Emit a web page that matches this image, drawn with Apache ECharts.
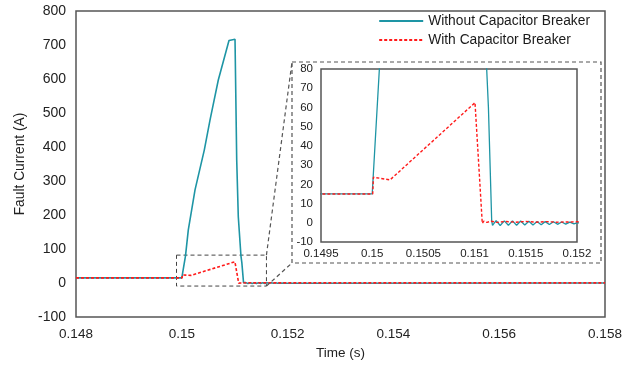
<!DOCTYPE html>
<html><head><meta charset="utf-8">
<script src="https://cdn.jsdelivr.net/npm/echarts@6/dist/echarts.min.js"></script>
<style>html,body{margin:0;padding:0;background:#fff}#c{width:638px;height:367px}</style>
</head><body><div id="c"></div>
<script>
const seriesNames = ['Without Capacitor Breaker', 'With Capacitor Breaker'];
// [time (s), current (A)]
const withoutBreaker = [
  [0.148, 15], [0.15, 15], [0.150005, 15.5], [0.15007, 80], [0.150123, 156], [0.15025, 274],
  [0.150425, 391], [0.150533, 479], [0.15069, 597], [0.150892, 713], [0.151006, 717],
  [0.151038, 362], [0.151068, 195], [0.151118, 80], [0.151135, 60], [0.151167, 1],
  [0.151175, -1.4], [0.15121, 1.1], [0.15125, -1.4], [0.15129, 1.0], [0.15133, -1.3],
  [0.15137, 1.0], [0.15141, -1.3], [0.15145, 0.9], [0.15149, -1.2], [0.15153, 0.8],
  [0.15157, -1.1], [0.15161, 0.7], [0.15165, -1.0], [0.15169, 0.6], [0.15173, -0.9],
  [0.15177, 0.5], [0.15181, -0.8], [0.15185, 0.4], [0.15189, -0.7], [0.15193, 0.3],
  [0.15197, -0.6], [0.152, 0], [0.158, 0]
];
const withBreaker = [
  [0.148, 15], [0.150005, 15], [0.150012, 23.7], [0.150174, 22.3], [0.151004, 62.5],
  [0.151075, -0.3], [0.15109, 0.9], [0.15112, 0.2], [0.15116, 0.8], [0.15122, 0.2],
  [0.1513, 0.7], [0.1514, 0.3], [0.1515, 0.7], [0.1516, 0.3], [0.1517, 0.6], [0.1518, 0.3],
  [0.152, 0.5], [0.158, 0.5]
];
const mainXTicks = [0.148, 0.15, 0.152, 0.154, 0.156, 0.158];
const mainYTicks = [-100, 0, 100, 200, 300, 400, 500, 600, 700, 800];
const insetXTicks = [0.1495, 0.15, 0.1505, 0.151, 0.1515, 0.152];
const insetYTicks = [-10, 0, 10, 20, 30, 40, 50, 60, 70, 80];
const zoomBoxX = [0.1499, 0.1516];
const zoomBoxY = [-9, 82];

const TEAL = '#1E95A5', RED = '#FF1A1A', FONT = 'Liberation Sans, Arial, sans-serif';
const fmt = v => String(parseFloat(v.toFixed(5)));
const step = a => +(a[1] - a[0]).toFixed(6);

const chart = echarts.init(document.getElementById('c'));
const frame = { show: true, borderColor: '#555', borderWidth: 1.5, backgroundColor: '#fff' };
const axBase = (ticks, fs, margin) => ({
  type: 'value', min: ticks[0], max: ticks[ticks.length - 1], interval: step(ticks),
  axisLine: { show: false }, axisTick: { show: false }, splitLine: { show: false },
  axisLabel: { formatter: fmt, fontSize: fs, color: '#222', fontFamily: FONT, margin: margin }
});
chart.setOption({
  animation: false,
  textStyle: { fontFamily: FONT },
  grid: [
    Object.assign({ left: 76, right: 33, top: 11, bottom: 50 }, frame),
    Object.assign({ left: 321, right: 61, top: 69, bottom: 125, z: 5 }, frame)
  ],
  legend: {
    data: seriesNames, orient: 'vertical', right: 43, top: 9, itemWidth: 44, itemHeight: 14, itemGap: 5,
    itemStyle: { opacity: 0 },
    textStyle: { fontSize: 13.8, color: '#1a1a1a', fontFamily: FONT }
  },
  xAxis: [
    Object.assign(axBase(mainXTicks, 13.5, 10), { gridIndex: 0, name: 'Time (s)', nameLocation: 'middle', nameGap: 28,
      nameTextStyle: { fontSize: 13.5, color: '#222', fontFamily: FONT } }),
    Object.assign(axBase(insetXTicks, 11.5, 6), { gridIndex: 1, z: 8 })
  ],
  yAxis: [
    Object.assign(axBase(mainYTicks, 14, 10), { gridIndex: 0, name: 'Fault Current (A)', nameLocation: 'middle', nameGap: 42,
      nameTextStyle: { fontSize: 13.8, color: '#222', fontFamily: FONT } }),
    Object.assign(axBase(insetYTicks, 11.5, 8), { gridIndex: 1, z: 8 })
  ],
  series: [
    { name: seriesNames[0], type: 'line', xAxisIndex: 0, yAxisIndex: 0, data: withoutBreaker, symbol: 'none',
      lineStyle: { color: TEAL, width: 1.6 }, itemStyle: { color: TEAL }, z: 2,
      markArea: { silent: true, itemStyle: { color: 'rgba(0,0,0,0)', borderColor: '#444', borderWidth: 1, borderType: [4, 3] },
        data: [[{ coord: [zoomBoxX[0], zoomBoxY[1]] }, { coord: [zoomBoxX[1], zoomBoxY[0]] }]] } },
    { name: seriesNames[1], type: 'line', xAxisIndex: 0, yAxisIndex: 0, data: withBreaker, symbol: 'none',
      lineStyle: { color: RED, width: 1.6, type: [3, 2] }, itemStyle: { color: RED }, z: 3 },
    { name: seriesNames[0], type: 'line', xAxisIndex: 1, yAxisIndex: 1, data: withoutBreaker, symbol: 'none',
      lineStyle: { color: TEAL, width: 1.3 }, z: 6 },
    { name: seriesNames[1], type: 'line', xAxisIndex: 1, yAxisIndex: 1, data: withBreaker, symbol: 'none',
      lineStyle: { color: RED, width: 1.4, type: [3, 2] }, z: 7 }
  ]
});

const bTop = chart.convertToPixel({ gridIndex: 0 }, [zoomBoxX[1], zoomBoxY[1]]);
const bBot = chart.convertToPixel({ gridIndex: 0 }, [zoomBoxX[1], zoomBoxY[0]]);
const iTL = chart.convertToPixel({ gridIndex: 1 }, [insetXTicks[0], insetYTicks[insetYTicks.length - 1]]);
const iBR = chart.convertToPixel({ gridIndex: 1 }, [insetXTicks[insetXTicks.length - 1], insetYTicks[0]]);
const oL = iTL[0] - 29, oT = iTL[1] - 7, oR = iBR[0] + 24, oB = iBR[1] + 21;
const dash = { stroke: '#555', lineWidth: 1.2, lineDash: [4, 3], fill: null };
chart.setOption({
  graphic: [
    { type: 'rect', z: 4, shape: { x: oL, y: oT, width: oR - oL, height: oB - oT }, style: Object.assign({}, dash, { fill: '#fff' }) },
    { type: 'line', z: 4, shape: { x1: bTop[0], y1: bTop[1], x2: oL, y2: oT }, style: dash },
    { type: 'line', z: 4, shape: { x1: bBot[0], y1: bBot[1], x2: oL, y2: oB }, style: dash }
  ]
});
</script></body></html>
